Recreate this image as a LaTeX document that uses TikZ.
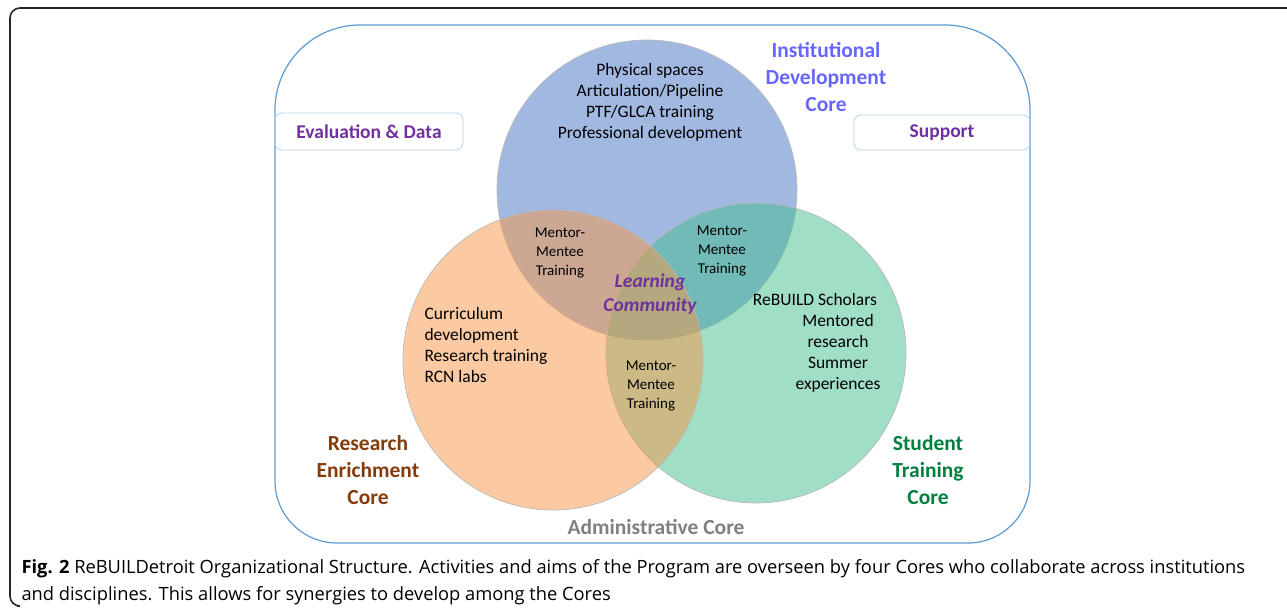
\documentclass[tikz,border=0pt]{standalone}
\usepackage{fontspec}
\setmainfont{Carlito}
\newfontfamily\capfont{Open Sans}
\definecolor{instblue}{RGB}{68,114,196}
\definecolor{resorange}{RGB}{247,150,70}
\definecolor{stugreen}{RGB}{65,189,141}
\definecolor{coreviolet}{RGB}{102,102,255}
\definecolor{labpurple}{RGB}{112,48,160}
\definecolor{resbrown}{RGB}{132,60,12}
\definecolor{stutext}{RGB}{0,128,64}
\definecolor{admline}{RGB}{91,155,213}
\newcommand{\mm}{Mentor-\\Mentee\\Training}

\begin{document}
\begin{tikzpicture}[x=1pt,y=-1pt,
   circ/.style={draw=gray!55,line width=0.7pt,fill opacity=0.5},
   body/.style={font=\fontsize{17.5}{21}\selectfont,align=center},
   small/.style={font=\fontsize{15}{19}\selectfont,align=center},
   core/.style={font=\bfseries\fontsize{21.5}{27}\selectfont,align=center},
   tagbox/.style={draw=admline!45,line width=0.8pt,rounded corners=7pt},
   tagtext/.style={font=\bfseries\fontsize{19.5}{23}\selectfont,text=labpurple}]
   \useasboundingbox (0,0) rectangle (1287,613);
   \draw[black!85,line width=1.6pt,rounded corners=10pt] (17,606) -- (10,606) -- (10,8) -- (1287,8);
   \draw[admline,line width=1.2pt] (650,543) [rounded corners=62pt] -- (275,543)
      [rounded corners=85pt] -- (275,25) -- (1030,25) [rounded corners=62pt] -- (1030,543) -- cycle;
   \draw[tagbox] (275,113) rectangle (463,150) node[midway,tagtext] (eval) {Evaluation \& Data};
   \draw[tagbox] (854,115) rectangle (1030,150) node[midway,tagtext] (supp) {Support};
   \filldraw[circ,fill=instblue]  (647,190) circle (150pt);
   \filldraw[circ,fill=stugreen]  (756,353) circle (150pt);
   \filldraw[circ,fill=resorange] (553,360) circle (150pt);
   \draw (650,102) node[body] (inst) {Physical spaces\\Articulation/Pipeline\\PTF/GLCA training\\Professional development};
   \draw (826,77) node[core,text=coreviolet] (instcore) {Institutional\\Development\\Core};
   \draw (560,253) node[small] (mmleft) {\mm};
   \draw (722,251) node[small] (mmright) {\mm};
   \draw (651,386) node[small] (mmlow) {\mm};
   \draw (650,294) node[font=\bfseries\itshape\fontsize{19.5}{24}\selectfont,text=labpurple,align=center] (learn) {Learning\\Community};
   \draw (421,345) node[body,align=left,anchor=west] (res) {Curriculum\\development\\Research training\\RCN labs};
   \draw (815,299) node[body] (stu) {ReBUILD Scholars};
   \draw (838,353) node[body] (stumore) {Mentored\\research\\Summer\\experiences};
   \draw (368,470) node[core,text=resbrown] (rescore) {Research\\Enrichment\\Core};
   \draw (928,470) node[core,text=stutext] (stucore) {Student\\Training\\Core};
   \draw (656,527) node[core,text=gray] (adm) {Administrative Core};
   \draw (18,582) node[anchor=west,align=left,font=\capfont\fontsize{18.3}{27}\selectfont] (cap)
      {\textbf{Fig. 2} ReBUILDetroit Organizational Structure. Activities and aims of the Program are overseen by four Cores who collaborate across institutions\\and disciplines. This allows for synergies to develop among the Cores};
\end{tikzpicture}
\end{document}
